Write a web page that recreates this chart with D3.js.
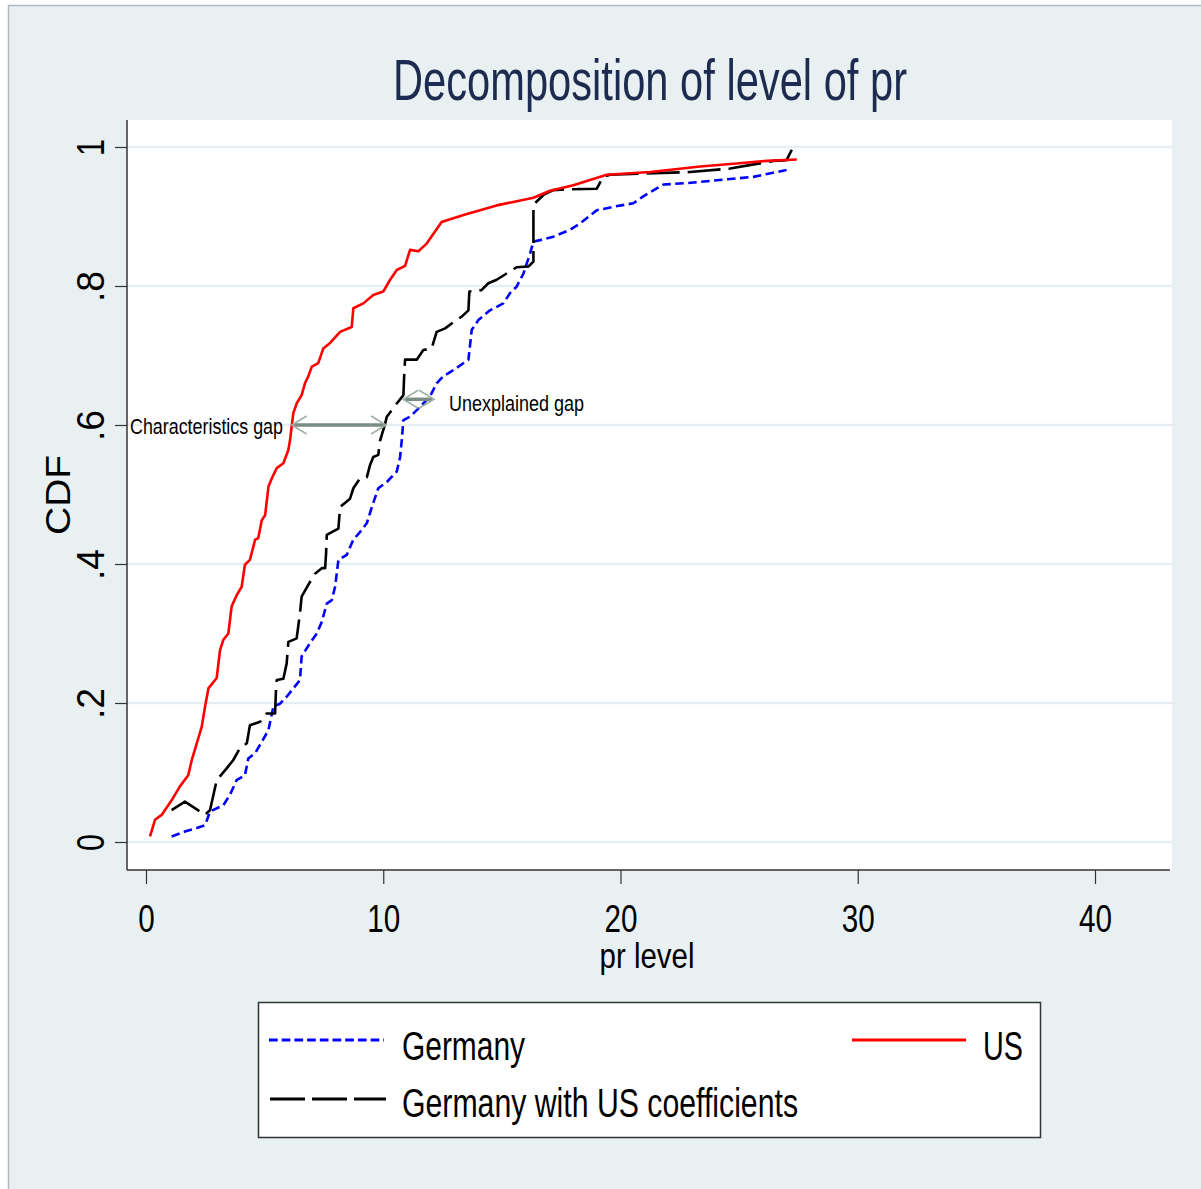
<!DOCTYPE html>
<html>
<head>
<meta charset="utf-8">
<title>Decomposition of level of pr</title>
<script src="https://cdnjs.cloudflare.com/ajax/libs/d3/7.8.5/d3.min.js"></script>
<style>
    body { margin: 0; background: #fff; }
    svg { display: block; }
    text { font-family: "Liberation Sans", Arial, sans-serif; }
</style>
</head>
<body>
<svg id="chart"></svg>
<script>
// CDF points: [pr level, CDF]
const usSeries = [
    [0.17,0.008],[0.38,0.032],[0.66,0.039],[1.08,0.060],[1.43,0.080],[1.78,0.096],[1.93,0.118],
    [2.14,0.142],[2.35,0.166],[2.49,0.195],[2.63,0.221],[2.98,0.236],[3.12,0.276],[3.26,0.291],
    [3.47,0.300],[3.61,0.339],[3.82,0.355],[4.03,0.367],[4.17,0.399],[4.38,0.406],[4.60,0.435],
    [4.73,0.437],[4.88,0.463],[5.02,0.470],[5.16,0.511],[5.30,0.523],[5.51,0.538],[5.79,0.545],
    [6.00,0.564],[6.07,0.578],[6.21,0.617],[6.35,0.631],[6.56,0.643],[6.70,0.660],[6.84,0.670],
    [6.99,0.684],[7.26,0.689],[7.47,0.710],[7.76,0.718],[8.18,0.734],[8.67,0.741],[8.74,0.768],
    [9.16,0.775],[9.58,0.787],[10.0,0.792],[10.29,0.809],[10.57,0.823],[10.92,0.829],[11.13,0.852],
    [11.48,0.850],[11.83,0.861],[12.46,0.892],[13.38,0.902],[14.08,0.909],[14.78,0.916],[15.48,0.921],
    [16.33,0.927],[17.03,0.937],[18.01,0.945],[19.42,0.960],[21.25,0.964],[23.36,0.972],[24.76,0.976],
    [26.17,0.980],[27.43,0.982]
];

const germanyUsCoefSeries = [
    [1.08,0.046],[1.64,0.058],[2.49,0.039],[2.70,0.046],[2.98,0.089],[3.40,0.106],[3.68,0.118],
    [3.96,0.135],[4.25,0.142],[4.38,0.168],[4.81,0.173],[5.09,0.185],[5.44,0.185],[5.48,0.219],
    [5.51,0.233],[5.79,0.235],[5.93,0.257],[6.00,0.288],[6.35,0.293],[6.49,0.329],[6.56,0.353],
    [6.84,0.370],[7.12,0.386],[7.41,0.394],[7.55,0.394],[7.59,0.415],[7.62,0.442],[7.83,0.446],
    [8.11,0.451],[8.18,0.482],[8.60,0.494],[8.74,0.509],[9.02,0.523],[9.31,0.525],[9.44,0.542],
    [9.58,0.554],[9.79,0.557],[9.87,0.578],[10.08,0.602],[10.15,0.612],[10.57,0.631],[10.85,0.643],
    [10.88,0.670],[10.92,0.694],[11.41,0.694],[11.69,0.708],[12.04,0.710],[12.25,0.734],[12.61,0.739],
    [12.96,0.748],[13.31,0.756],[13.59,0.765],[13.63,0.792],[14.14,0.794],[14.43,0.804],[14.78,0.809],
    [15.20,0.818],[15.62,0.827],[16.12,0.828],[16.33,0.835],[16.33,0.917],[16.75,0.931],[17.17,0.938],
    [17.66,0.939],[19.0,0.940],[19.27,0.957],[19.56,0.960],[21.1,0.962],[22.93,0.964],[24.62,0.969],
    [26.45,0.980],[27.0,0.981],[27.22,0.996]
];

const germanySeries = [
    [1.08,0.008],[1.64,0.015],[2.14,0.020],[2.49,0.024],[2.70,0.044],[3.26,0.053],[3.54,0.068],
    [3.82,0.089],[4.17,0.096],[4.31,0.120],[4.60,0.128],[4.88,0.144],[5.16,0.161],[5.37,0.195],
    [5.65,0.199],[5.93,0.209],[6.49,0.233],[6.56,0.267],[6.91,0.286],[7.20,0.300],[7.41,0.317],
    [7.62,0.343],[7.83,0.348],[7.97,0.367],[8.11,0.406],[8.46,0.413],[8.74,0.435],[9.02,0.446],
    [9.31,0.459],[9.52,0.482],[9.79,0.509],[10.15,0.518],[10.57,0.533],[10.71,0.554],[10.78,0.578],
    [10.85,0.607],[11.13,0.612],[11.55,0.626],[11.97,0.641],[12.25,0.660],[12.53,0.670],[12.96,0.679],
    [13.59,0.694],[13.73,0.737],[14.01,0.751],[14.50,0.765],[15.06,0.775],[15.35,0.790],[15.62,0.799],
    [15.91,0.818],[16.19,0.847],[16.33,0.864],[16.61,0.866],[17.17,0.871],[17.88,0.881],[18.30,0.890],
    [19.0,0.909],[19.70,0.914],[20.54,0.919],[20.96,0.929],[21.81,0.946],[22.79,0.948],[24.62,0.954],
    [25.60,0.957],[27.0,0.967]
];

const xTicks = [0, 10, 20, 30, 40];
const yTicks = [0, 0.2, 0.4, 0.6, 0.8, 1];
const yTickLabels = ["0", ".2", ".4", ".6", ".8", "1"];

// gap annotations: label, arrow from x0 to x1 at level y
const gapLabels = ["Characteristics gap", "Unexplained gap"];
const gapArrows = [
    { x0: 6.14, x1: 10.12, y: 0.600 },
    { x0: 10.84, x1: 12.14, y: 0.637 }
];

const legendLabels = ["Germany", "US", "Germany with US coefficients"];

const width = 1201, height = 1189;
const svg = d3.select('#chart').attr('width', width).attr('height', height);

// outer background (stata-ish light blue-gray)
svg.append('rect').attr('x', 8).attr('y', 5).attr('width', width - 8).attr('height', height - 5)
    .attr('fill', '#e8f0f2');
svg.append('path').attr('d', `M8.5,${height}V5.5H${width}`)
    .attr('fill', 'none').attr('stroke', '#b4b8ba').attr('stroke-width', 1.5);

// plot region
const plot = { left: 127, right: 1172, top: 120, bottom: 870 };
const x = d3.scaleLinear().domain([0, 40]).range([146, 1095]);
const y = d3.scaleLinear().domain([0, 1]).range([842, 147]);

svg.append('rect')
    .attr('x', plot.left).attr('y', plot.top)
    .attr('width', plot.right - plot.left).attr('height', plot.bottom - plot.top)
    .attr('fill', '#fff');

// gridlines
svg.append('g').selectAll('line').data(yTicks).join('line')
    .attr('x1', plot.left).attr('x2', plot.right)
    .attr('y1', d => y(d)).attr('y2', d => y(d))
    .attr('stroke', '#e6eef1').attr('stroke-width', 2.5);

// text helper: squeeze glyphs to the measured width (stata draws a narrow face)
function label(g, txt, px, py, size, len, anchor) {
    return g.append('text')
        .attr('x', px).attr('y', py)
        .attr('font-size', size)
        .attr('text-anchor', anchor || 'start')
        .attr('textLength', len)
        .attr('lengthAdjust', 'spacingAndGlyphs')
        .text(txt);
}

// x axis
const xAxis = svg.append('g')
    .attr('transform', `translate(0,${plot.bottom})`)
    .call(d3.axisBottom(x).tickValues(xTicks).tickSize(14).tickPadding(21).tickSizeOuter(0));
xAxis.select('.domain').attr('d', `M${plot.left},0H${plot.right - 2}`)
    .attr('stroke', '#333').attr('stroke-width', 1.5);
xAxis.selectAll('.tick line').attr('stroke', '#333').attr('stroke-width', 1.2);
xAxis.selectAll('.tick text')
    .attr('font-size', 38).attr('fill', '#000')
    .attr('font-family', '"Liberation Sans", Arial, sans-serif')
    .attr('textLength', d => String(d).length * 16.5)
    .attr('lengthAdjust', 'spacingAndGlyphs');

// y axis
const yAxis = svg.append('g')
    .attr('transform', `translate(${plot.left},0)`)
    .call(d3.axisLeft(y).tickValues(yTicks).tickSize(12).tickSizeOuter(0)
        .tickFormat((d, i) => yTickLabels[i]));
yAxis.select('.domain').attr('d', `M0,${plot.top}V${plot.bottom}`)
    .attr('stroke', '#333').attr('stroke-width', 1.5);
yAxis.selectAll('.tick line').attr('stroke', '#333').attr('stroke-width', 1.2);
yAxis.selectAll('.tick text')
    .attr('x', 0).attr('y', 0).attr('dy', 0)
    .attr('text-anchor', 'middle')
    .attr('transform', 'translate(-23,0) rotate(-90)')
    .attr('font-size', 39).attr('fill', '#000')
    .attr('font-family', '"Liberation Sans", Arial, sans-serif')
    .attr('textLength', (d, i) => yTickLabels[i].length === 1 ? 17 : 31)
    .attr('lengthAdjust', 'spacingAndGlyphs');

// axis titles
const titles = svg.append('g');
label(titles, 'Decomposition of level of pr', 650, 100, 58, 514, 'middle').attr('fill', '#1c2b4f');
label(titles, 'pr level', 647, 968, 35, 95, 'middle');
label(titles, 'CDF', 0, 0, 35, 80, 'middle').attr('transform', 'translate(70,495) rotate(-90)');

// curves
const line = d3.line().x(d => x(d[0])).y(d => y(d[1]));
const curves = svg.append('g').attr('fill', 'none').attr('stroke-linejoin', 'round');
curves.append('path').datum(germanySeries).attr('d', line)
    .attr('stroke', '#0000ff').attr('stroke-width', 2.6).attr('stroke-dasharray', '8.5,4.5');
curves.append('path').datum(germanyUsCoefSeries).attr('d', line)
    .attr('stroke', '#000').attr('stroke-width', 2.6).attr('stroke-dasharray', '33,8');
curves.append('path').datum(usSeries).attr('d', line)
    .attr('stroke', '#ff0000').attr('stroke-width', 2.6);

// gap arrows
const arrows = svg.append('g');
gapArrows.forEach(a => {
    const x0 = x(a.x0), x1 = x(a.x1), yy = y(a.y);
    arrows.append('line').attr('x1', x0 + 2).attr('x2', x1 - 2).attr('y1', yy).attr('y2', yy)
        .attr('stroke', '#7b8d83').attr('stroke-width', 3.5);
    arrows.append('path')
        .attr('d', `M${x0 + 15},${yy - 9}L${x0},${yy}L${x0 + 15},${yy + 9}M${x1 - 15},${yy - 9}L${x1},${yy}L${x1 - 15},${yy + 9}`)
        .attr('fill', 'none').attr('stroke', '#9fb0a6').attr('stroke-width', 1.6);
});
label(arrows, gapLabels[0], 130, 434, 22, 153);
label(arrows, gapLabels[1], 449, 411, 22, 135);

// legend
const legend = svg.append('g');
legend.append('rect').attr('x', 258.5).attr('y', 1002.5).attr('width', 782).attr('height', 135)
    .attr('fill', '#fff').attr('stroke', '#333').attr('stroke-width', 1.5);
legend.append('line').attr('x1', 269).attr('x2', 384).attr('y1', 1040).attr('y2', 1040)
    .attr('stroke', '#0000ff').attr('stroke-width', 3).attr('stroke-dasharray', '8.7,4');
legend.append('line').attr('x1', 852).attr('x2', 966).attr('y1', 1040).attr('y2', 1040)
    .attr('stroke', '#ff0000').attr('stroke-width', 3);
legend.append('line').attr('x1', 270).attr('x2', 386).attr('y1', 1099).attr('y2', 1099)
    .attr('stroke', '#000').attr('stroke-width', 3).attr('stroke-dasharray', '35,7');
label(legend, legendLabels[0], 402, 1060, 40, 123);
label(legend, legendLabels[1], 983, 1060, 40, 40);
label(legend, legendLabels[2], 402, 1117, 40, 396);
</script>
</body>
</html>
